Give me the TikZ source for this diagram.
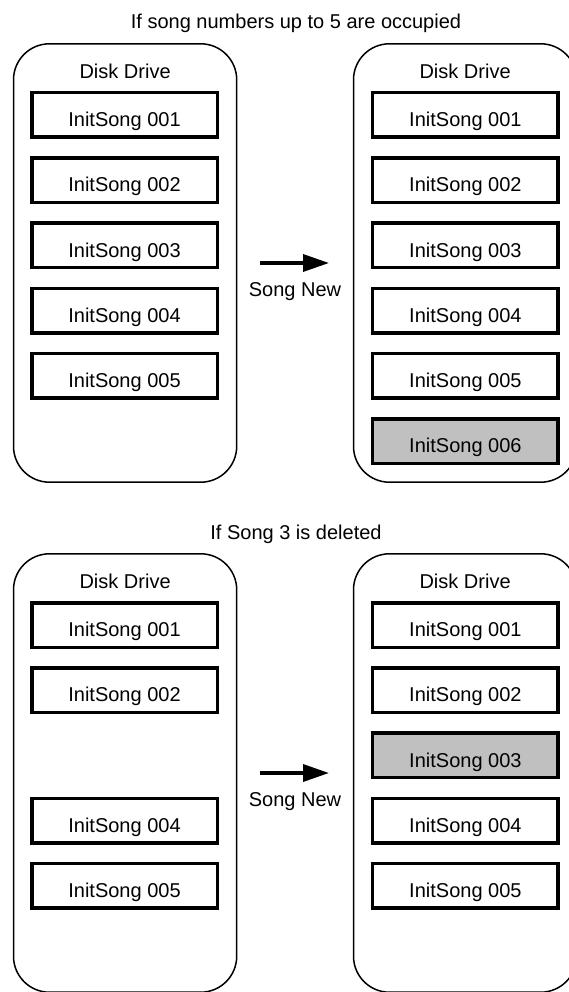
\documentclass[tikz,border=0pt]{standalone}
\usepackage{fontspec}
\setmainfont{Liberation Sans}
\usetikzlibrary{arrows.meta}
\definecolor{hilite}{RGB}{192,192,192}
\tikzset{
  drive/.style={draw=black, line width=1.5pt, rounded corners=36pt, minimum width=223.2pt, minimum height=438.4pt, inner sep=0pt},
  song/.style={draw=black, line width=3.5pt, fill=white, minimum width=185.5pt, minimum height=44.5pt, inner sep=0pt, text height=23.4pt, text depth=0pt, font=\fontsize{20}{24}\selectfont},
  newsong/.style={song, fill=hilite},
  lbl/.style={inner sep=0pt, anchor=base, font=\fontsize{20}{24}\selectfont},
  bigarrow/.style={line width=3.5pt, -{Triangle[length=26pt,width=17pt]}}
}
\begin{document}
\begin{tikzpicture}[x=1pt,y=-1pt]
\useasboundingbox (0,0) rectangle (569,992);
\clip (0,0) rectangle (569,992);
% ---------- top section ----------
\node[lbl] (t1) at (296,28.5) {If song numbers up to 5 are occupied};
\node[drive] (dA) at (125.1,263) {};
\node[drive] (dB) at (465.1,263) {};
\node[lbl] (dAl) at (125.1,78.3) {Disk Drive};
\node[lbl] (dBl) at (465.1,78.3) {Disk Drive};
\node[song] (a1) at (124.5,115) {InitSong 001};
\node[song] (a2) at (124.5,180.2) {InitSong 002};
\node[song] (a3) at (124.5,245.4) {InitSong 003};
\node[song] (a4) at (124.5,310.6) {InitSong 004};
\node[song] (a5) at (124.5,375.8) {InitSong 005};
\node[song] (b1) at (465.4,115) {InitSong 001};
\node[song] (b2) at (465.4,180.2) {InitSong 002};
\node[song] (b3) at (465.4,245.4) {InitSong 003};
\node[song] (b4) at (465.4,310.6) {InitSong 004};
\node[song] (b5) at (465.4,375.8) {InitSong 005};
\node[newsong] (b6) at (465.4,441) {InitSong 006};
\coordinate (s1) at (260,263);
\coordinate (e1) at (329,263);
\draw[bigarrow] (s1) -- (e1);
\node[lbl] (n1) at (295,296) {Song New};
% ---------- bottom section ----------
\node[lbl] (t2) at (296,539) {If Song 3 is deleted};
\node[drive] (dC) at (125.1,773) {};
\node[drive] (dD) at (465.1,773) {};
\node[lbl] (dCl) at (125.1,588.3) {Disk Drive};
\node[lbl] (dDl) at (465.1,588.3) {Disk Drive};
\node[song] (c1) at (124.5,625) {InitSong 001};
\node[song] (c2) at (124.5,690.2) {InitSong 002};
\node[song] (c4) at (124.5,820.6) {InitSong 004};
\node[song] (c5) at (124.5,885.8) {InitSong 005};
\node[song] (d1) at (465.4,625) {InitSong 001};
\node[song] (d2) at (465.4,690.2) {InitSong 002};
\node[newsong] (d3) at (465.4,755.4) {InitSong 003};
\node[song] (d4) at (465.4,820.6) {InitSong 004};
\node[song] (d5) at (465.4,885.8) {InitSong 005};
\coordinate (s2) at (260,773);
\coordinate (e2) at (329,773);
\draw[bigarrow] (s2) -- (e2);
\node[lbl] (n2) at (295,806) {Song New};
\end{tikzpicture}
\end{document}
